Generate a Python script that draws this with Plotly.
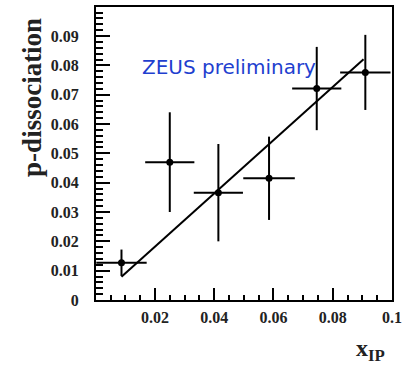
import plotly.graph_objects as go

# Measured points: x_IP bin centres, p-dissociation fraction and errors
x_ip = [0.0087, 0.0250, 0.0414, 0.0585, 0.0746, 0.0910]
p_diss = [0.0127, 0.0470, 0.0366, 0.0415, 0.0721, 0.0776]
x_err = [0.0085, 0.0083, 0.0083, 0.0087, 0.0083, 0.0085]
y_err = [0.0045, 0.0170, 0.0166, 0.0142, 0.0142, 0.0128]

# Linear fit drawn over the measured range
fit_x = [0.0087, 0.0904]
fit_y = [0.0079, 0.0821]

# Axis extents (the corner values 0 on x and 0.1 on y carry no label)
x_range = [0.0001, 0.1]
y_range = [0, 0.0999]
x_dtick = 0.02
y_dtick = 0.01

serif = "Liberation Serif, Times New Roman, serif"

fig = go.Figure()

fig.add_trace(go.Scatter(
    x=fit_x, y=fit_y, mode="lines",
    line=dict(color="black", width=2),
    hoverinfo="skip", showlegend=False,
))

fig.add_trace(go.Scatter(
    x=x_ip, y=p_diss, mode="markers",
    marker=dict(color="black", size=7),
    error_x=dict(type="data", array=x_err, color="black", thickness=2, width=0),
    error_y=dict(type="data", array=y_err, color="black", thickness=2, width=0),
    showlegend=False,
))

tick_font = dict(family=serif, size=16, color="#222222", weight="bold")

fig.update_layout(
    width=407, height=367,
    margin=dict(l=96, r=15, t=7, b=67),
    paper_bgcolor="white", plot_bgcolor="white",
    font=dict(family=serif, color="#222222"),
    xaxis=dict(
        range=x_range, showgrid=False, zeroline=False, automargin=False,
        showline=True, linecolor="black", linewidth=2, mirror=True,
        tickmode="linear", tick0=0, dtick=x_dtick,
        ticks="inside", ticklen=12, tickwidth=2, tickcolor="black",
        tickfont=tick_font, ticklabelstandoff=2,
        minor=dict(ticks="inside", ticklen=5, tickwidth=2, tickcolor="black",
                   showgrid=False),
    ),
    yaxis=dict(
        range=y_range, showgrid=False, zeroline=False, automargin=False,
        showline=True, linecolor="black", linewidth=2, mirror=True,
        tickmode="linear", tick0=0, dtick=y_dtick,
        ticks="inside", ticklen=14, tickwidth=2, tickcolor="black",
        tickfont=tick_font, ticklabelstandoff=12,
        minor=dict(ticks="inside", ticklen=7, tickwidth=2, tickcolor="black",
                   showgrid=False),
    ),
    annotations=[
        dict(text="p-dissociation", textangle=-90, showarrow=False,
             xref="paper", yref="paper", x=-0.216, y=0.69,
             xanchor="center", yanchor="middle",
             font=dict(family=serif, size=27, color="#222222", weight="bold")),
        dict(text="x<sub>IP</sub>", showarrow=False,
             xref="paper", yref="paper", x=0.929, y=-0.17,
             xanchor="center", yanchor="middle",
             font=dict(family=serif, size=24, color="#222222", weight="bold")),
        dict(text="ZEUS preliminary", showarrow=False,
             xref="paper", yref="paper", x=0.448, y=0.795,
             xanchor="center", yanchor="middle",
             font=dict(family="Comic Sans MS, DejaVu Sans, sans-serif", size=20,
                       color="#1f3fcf")),
    ],
)

fig.write_html("out.html")
